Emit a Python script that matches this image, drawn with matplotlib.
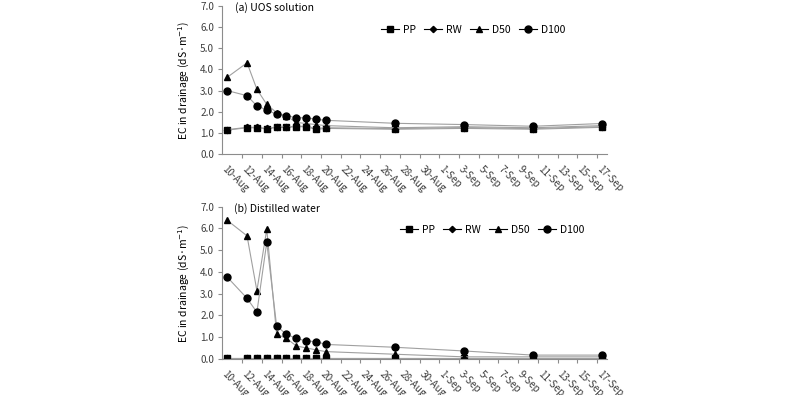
import numpy as np
import pandas as pd
import matplotlib
matplotlib.use('Agg')
import matplotlib.pyplot as plt
from matplotlib.lines import Line2D

plt.rcParams['font.family'] = ['Noto Sans CJK KR', 'DejaVu Sans']

# sampling dates
dates = ['10-Aug', '12-Aug', '13-Aug', '14-Aug', '15-Aug', '16-Aug', '17-Aug',
         '18-Aug', '19-Aug', '20-Aug', '27-Aug', '3-Sep', '10-Sep', '17-Sep']

tick_labels = ['10-Aug', '12-Aug', '14-Aug', '16-Aug', '18-Aug', '20-Aug', '22-Aug',
               '24-Aug', '26-Aug', '28-Aug', '30-Aug', '1-Sep', '3-Sep', '5-Sep',
               '7-Sep', '9-Sep', '11-Sep', '13-Sep', '15-Sep', '17-Sep']

series_names = ['PP', 'RW', 'D50', 'D100']

# (a) UOS solution
uos_pp = [1.14, 1.25, 1.25, 1.19, 1.27, 1.27, 1.30, 1.30, 1.17, 1.22, 1.18, 1.22, 1.18, 1.27]
uos_rw = [1.16, 1.27, 1.27, 1.22, 1.29, 1.29, 1.32, 1.32, 1.22, 1.25, 1.21, 1.26, 1.21, 1.30]
uos_d50 = [3.63, 4.31, 3.06, 2.35, 1.96, 1.80, 1.50, 1.45, 1.40, 1.35, 1.25, 1.30, 1.25, 1.35]
uos_d100 = [3.00, 2.76, 2.28, 2.09, 1.88, 1.82, 1.72, 1.72, 1.65, 1.60, 1.46, 1.40, 1.32, 1.45]

# (b) Distilled water
dw_pp = [0.04, 0.04, 0.04, 0.04, 0.04, 0.04, 0.04, 0.04, 0.04, 0.04, 0.04, 0.04, 0.04, 0.04]
dw_rw = [0.06, 0.06, 0.06, 0.06, 0.06, 0.06, 0.06, 0.06, 0.06, 0.06, 0.06, 0.06, 0.06, 0.06]
dw_d50 = [6.37, 5.66, 3.14, 5.96, 1.14, 0.95, 0.60, 0.51, 0.42, 0.34, 0.22, 0.10, 0.10, 0.10]
dw_d100 = [3.76, 2.79, 2.15, 5.36, 1.52, 1.13, 0.95, 0.83, 0.80, 0.67, 0.54, 0.37, 0.18, 0.18]

markers = ['s', 'D', '^', 'o']
msizes = [4.5, 3.2, 5, 5]

start = pd.to_datetime('10-Aug', format='%d-%b')
x = (pd.to_datetime(dates, format='%d-%b') - start).days.values
xt = (pd.to_datetime(tick_labels, format='%d-%b') - start).days.values

fig = plt.figure(figsize=(8, 3.95), dpi=100)
ax1 = fig.add_axes([0.278, 0.6094, 0.4805, 0.3762])
ax2 = fig.add_axes([0.278, 0.0911, 0.4805, 0.3856])

axis_col = '#8c8c8c'
text_col = '#404040'


def draw_panel(ax, data, title, tx, ty, lx, ly):
    for vals, m, ms in zip(data, markers, msizes):
        ax.plot(x, vals, color='#a0a0a0', lw=0.8, marker=m, ms=ms,
                mfc='black', mec='black')
    ax.set_xlim(-0.5, 38.5)
    ax.set_ylim(0, 7)
    ax.set_yticks(np.arange(0, 8, 1))
    ax.set_yticklabels(['%.1f' % v for v in np.arange(0, 8, 1)])
    ax.set_xticks(xt)
    ax.set_xticklabels(tick_labels, rotation=-45, ha='left', va='top',
                       rotation_mode='anchor')
    ax.set_xticks(np.arange(1.5, 38, 2), minor=True)
    ax.tick_params(axis='x', which='major', length=0, pad=7, labelsize=7.2, labelcolor=text_col)
    ax.tick_params(axis='x', which='minor', length=3, color=axis_col, width=0.8)
    ax.tick_params(axis='y', length=3, color=axis_col, width=0.8, labelsize=7.2,
                   labelcolor=text_col, pad=3)
    for s in ['top', 'right']:
        ax.spines[s].set_visible(False)
    for s in ['left', 'bottom']:
        ax.spines[s].set_color(axis_col)
        ax.spines[s].set_linewidth(0.8)
    ax.set_ylabel('EC in drainage (dS·m$^{-1}$)', fontsize=7.5, color='black', labelpad=6)
    ax.text(tx, ty, title, transform=ax.transAxes, fontsize=7.5, va='center', ha='left')
    handles = [Line2D([], [], color='black', lw=0.8, marker=m, ms=ms, mfc='black', mec='black')
               for m, ms in zip(markers, msizes)]
    ax.legend(handles, series_names, loc='center', bbox_to_anchor=(lx, ly), ncol=4,
              frameon=False, fontsize=7.5, handlelength=1.7, handletextpad=0.4,
              columnspacing=0.8, borderpad=0)


draw_panel(ax1, [uos_pp, uos_rw, uos_d50, uos_d100], '(a) UOS solution', 0.033, 0.985, 0.652, 0.836)
draw_panel(ax2, [dw_pp, dw_rw, dw_d50, dw_d100], '(b) Distilled water', 0.029, 0.991, 0.702, 0.847)

fig.savefig('out.png', dpi=100)
